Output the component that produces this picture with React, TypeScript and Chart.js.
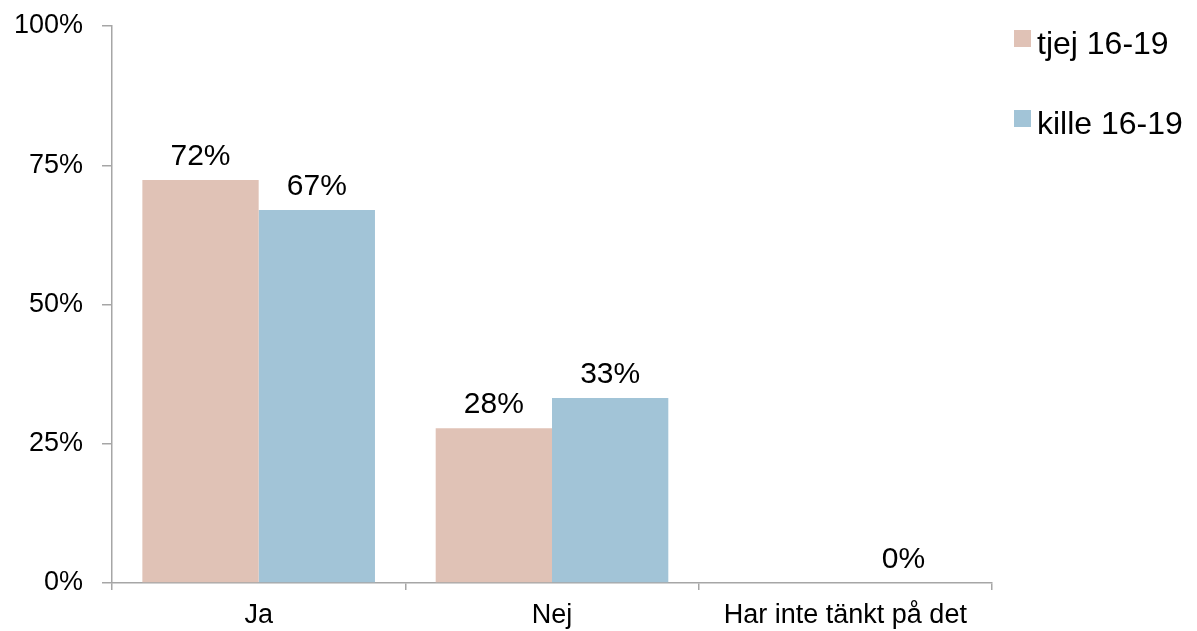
import React, { useEffect, useRef } from "react";
import { Chart, registerables } from "chart.js";

Chart.register(...registerables);

const categories = ["Ja", "Nej", "Har inte tänkt på det"];
const seriesNames = ["tjej 16-19", "kille 16-19"];
const tjejValues: (number | null)[] = [72.35, 27.8, null];
const killeValues: (number | null)[] = [66.97, 33.2, 0];
const seriesColors = ["#E0C2B6", "#A2C4D7"];
const yTicks = [0, 25, 50, 75, 100];

const FONT = "'Liberation Sans', Arial, Helvetica, sans-serif";
const AXIS = "#A6A6A6";

const valueLabels = {
  id: "valueLabels",
  afterDatasetsDraw(chart: any) {
    const ctx = chart.ctx;
    ctx.save();
    ctx.font = `30px ${FONT}`;
    ctx.fillStyle = "#000";
    ctx.textAlign = "center";
    ctx.textBaseline = "alphabetic";
    chart.data.datasets.forEach((ds: any, i: number) => {
      const meta = chart.getDatasetMeta(i);
      meta.data.forEach((bar: any, j: number) => {
        const v = ds.data[j];
        if (v === null || v === undefined) return;
        ctx.fillText(`${Math.round(v)}%`, bar.x, bar.y - 15);
      });
    });
    ctx.restore();
  },
};

const customLegend = {
  id: "customLegend",
  afterDraw(chart: any) {
    const ctx = chart.ctx;
    ctx.save();
    ctx.font = `32px ${FONT}`;
    ctx.textAlign = "left";
    ctx.textBaseline = "alphabetic";
    chart.data.datasets.forEach((ds: any, i: number) => {
      const sy = 30 + i * 80;
      ctx.fillStyle = ds.backgroundColor;
      ctx.fillRect(1014, sy, 17, 17);
      ctx.fillStyle = "#000";
      ctx.fillText(ds.label, 1037, sy + 24);
    });
    ctx.restore();
  },
};

export default function App() {
  const ref = useRef<HTMLCanvasElement | null>(null);

  useEffect(() => {
    document.body.style.margin = "0";
    if (!ref.current) return;
    const chart = new Chart(ref.current, {
      type: "bar",
      data: {
        labels: categories,
        datasets: [
          { label: seriesNames[0], data: tjejValues, backgroundColor: seriesColors[0] },
          { label: seriesNames[1], data: killeValues, backgroundColor: seriesColors[1] },
        ],
      },
      options: {
        animation: false,
        responsive: false,
        devicePixelRatio: 1,
        layout: { padding: { top: 26, right: 205, bottom: 0, left: 0 } },
        datasets: {
          bar: { categoryPercentage: 0.793, barPercentage: 1.0 },
        },
        plugins: {
          legend: { display: false },
          tooltip: { enabled: false },
        },
        scales: {
          x: {
            grid: {
              drawOnChartArea: false,
              drawTicks: true,
              tickLength: 7,
              color: AXIS,
              lineWidth: 1.5,
              offset: true,
            },
            border: { color: AXIS, width: 1.5 },
            ticks: {
              color: "#000",
              font: { family: FONT, size: 27 },
              padding: 9,
              maxRotation: 0,
              autoSkip: false,
            },
            afterFit(scale: any) {
              scale.height = 48;
              scale.paddingLeft = 0;
              scale.paddingRight = 0;
            },
          },
          y: {
            min: 0,
            max: 100,
            afterBuildTicks(scale: any) {
              scale.ticks = yTicks.map((v) => ({ value: v }));
            },
            grid: {
              drawOnChartArea: false,
              drawTicks: true,
              tickLength: 10,
              color: AXIS,
              lineWidth: 1.5,
            },
            border: { color: AXIS, width: 1.5 },
            ticks: {
              color: "#000",
              font: { family: FONT, size: 27 },
              padding: 19,
              callback: (v: any) => `${v}%`,
            },
            afterFit(scale: any) {
              scale.width = 112;
              scale.paddingTop = 0;
              scale.paddingBottom = 0;
            },
          },
        },
      },
      plugins: [valueLabels, customLegend],
    });
    return () => chart.destroy();
  }, []);

  return (
    <div style={{ position: "fixed", left: 0, top: 0, width: 1197, height: 631, background: "#fff" }}>
      <canvas ref={ref} width={1197} height={631} style={{ width: 1197, height: 631, display: "block" }} />
    </div>
  );
}
